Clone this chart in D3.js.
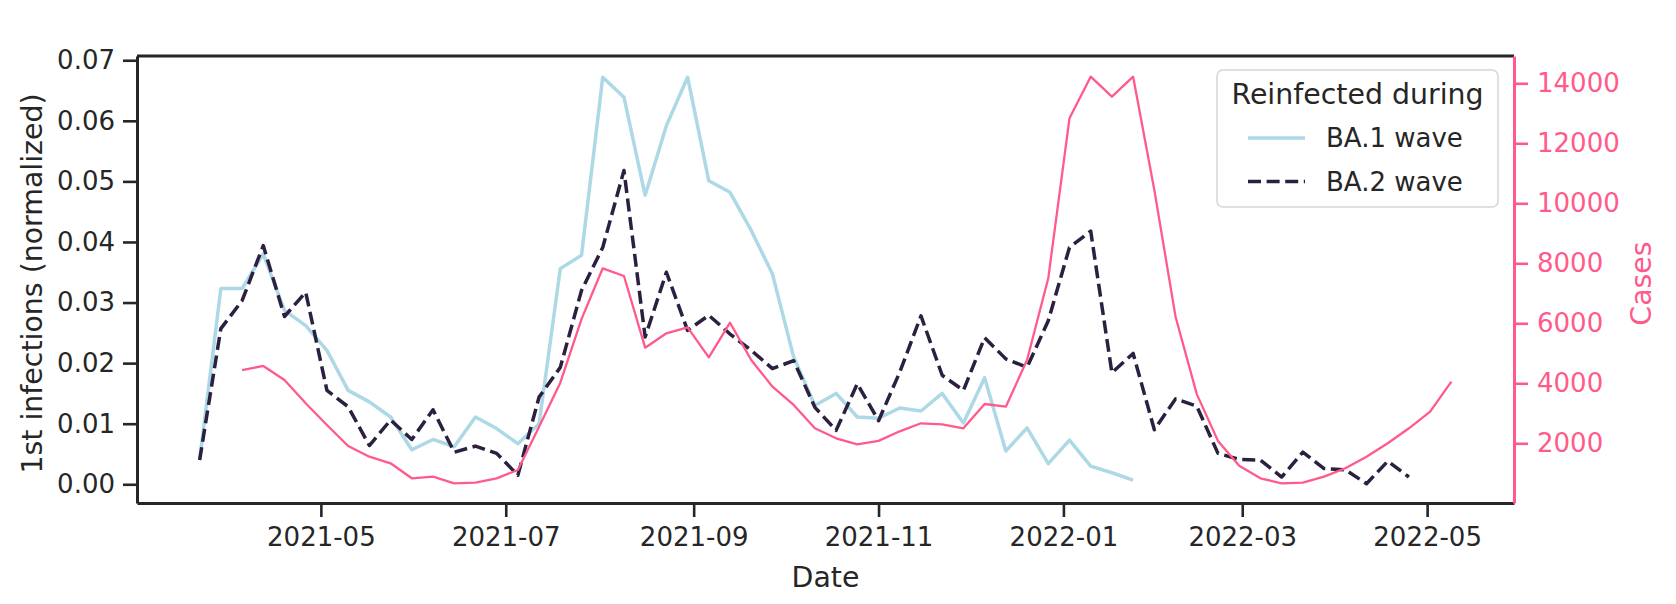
<!DOCTYPE html>
<html>
<head>
<meta charset="utf-8">
<script src="https://cdn.jsdelivr.net/npm/d3@7"></script>
<style>
  html, body { margin: 0; padding: 0; background: #ffffff; }
  svg { display: block; font-family: "DejaVu Sans", sans-serif; }
</style>
</head>
<body>
<svg id="chart" width="1676" height="604"></svg>
<script>
// ---------- data (weekly) ----------
const dates = [
  "2021-03-22","2021-03-29","2021-04-05","2021-04-12","2021-04-19","2021-04-26",
  "2021-05-03","2021-05-10","2021-05-17","2021-05-24","2021-05-31","2021-06-07",
  "2021-06-14","2021-06-21","2021-06-28","2021-07-05","2021-07-12","2021-07-19",
  "2021-07-26","2021-08-02","2021-08-09","2021-08-16","2021-08-23","2021-08-30",
  "2021-09-06","2021-09-13","2021-09-20","2021-09-27","2021-10-04","2021-10-11",
  "2021-10-18","2021-10-25","2021-11-01","2021-11-08","2021-11-15","2021-11-22",
  "2021-11-29","2021-12-06","2021-12-13","2021-12-20","2021-12-27","2022-01-03",
  "2022-01-10","2022-01-17","2022-01-24","2022-01-31","2022-02-07","2022-02-14",
  "2022-02-21","2022-02-28","2022-03-07","2022-03-14","2022-03-21","2022-03-28",
  "2022-04-04","2022-04-11","2022-04-18","2022-04-25","2022-05-02","2022-05-09"
];

// BA.1 wave reinfections: 1st infections (normalized), from 2021-03-22 to 2022-01-24
const ba1Values = [
  0.0040, 0.0323, 0.0323, 0.0380, 0.0287, 0.0262, 0.0221, 0.0155, 0.0136, 0.0111,
  0.0057, 0.0074, 0.0062, 0.0111, 0.0092, 0.0067, 0.0100, 0.0356, 0.0378, 0.0672,
  0.0639, 0.0477, 0.0592, 0.0672, 0.0501, 0.0482, 0.0419, 0.0347, 0.0210, 0.0130,
  0.0150, 0.0111, 0.0109, 0.0126, 0.0121, 0.0150, 0.0101, 0.0176, 0.0055, 0.0093,
  0.0034, 0.0073, 0.0030, 0.0019, 0.0007
];

// BA.2 wave reinfections: 1st infections (normalized), from 2021-03-22 to 2022-04-25
const ba2Values = [
  0.0040, 0.0257, 0.0303, 0.0394, 0.0277, 0.0317, 0.0155, 0.0128, 0.0064, 0.0106,
  0.0074, 0.0123, 0.0053, 0.0063, 0.0051, 0.0015, 0.0144, 0.0193, 0.0320, 0.0391,
  0.0518, 0.0243, 0.0350, 0.0254, 0.0279, 0.0248, 0.0221, 0.0191, 0.0204, 0.0127,
  0.0089, 0.0166, 0.0105, 0.0185, 0.0278, 0.0180, 0.0155, 0.0242, 0.0207, 0.0193,
  0.0270, 0.0391, 0.0418, 0.0184, 0.0216, 0.0090, 0.0141, 0.0129, 0.0051, 0.0041,
  0.0040, 0.0012, 0.0053, 0.0026, 0.0024, 0.0001, 0.0038, 0.0012
];

// Cases (right axis), from 2021-04-05 to 2022-05-09
const casesStart = 2; // index into dates
const casesValues = [
  4443, 4577, 4110, 3333, 2610, 1910, 1553, 1333, 833, 887,
  667, 687, 833, 1110, 2553, 4020, 6140, 7833, 7577, 5187,
  5667, 5867, 4867, 6020, 4777, 3887, 3277, 2500, 2167, 1967,
  2080, 2400, 2667, 2633, 2500, 3310, 3220, 4777, 7500, 12833,
  14220, 13553, 14220, 10443, 6220, 3640, 2080, 1250, 833, 667,
  690, 887, 1167, 1553, 2000, 2500, 3053, 4053
];

const xTickLabels = ["2021-05","2021-07","2021-09","2021-11","2022-01","2022-03","2022-05"];
const yLeftTicks = [0.00, 0.01, 0.02, 0.03, 0.04, 0.05, 0.06, 0.07];
const yRightTicks = [2000, 4000, 6000, 8000, 10000, 12000, 14000];
const legendTitle = "Reinfected during";
const seriesNames = ["BA.1 wave", "BA.2 wave"];

// ---------- styling ----------
const INK = "#262626";
const BLUE = "#add8e6";
const DARK = "#2b2040";
const PINK = "#ff5a8a";

const svg = d3.select("#chart");
const L = 137, R = 1514, T = 56, B = 503;

const parse = d3.utcParse("%Y-%m-%d");
const parseMonth = d3.utcParse("%Y-%m");
const dateObjs = dates.map(parse);

const x = d3.scaleUtc()
  .domain([new Date(Date.UTC(2021, 2, 1, 8)), new Date(Date.UTC(2022, 4, 29, 16))])
  .range([L, R]);

const yL = d3.scaleLinear().domain([-0.00309, 0.0707]).range([B, T]);
const yR = d3.scaleLinear().domain([10, 14910]).range([B, T]);

// ---------- lines ----------
const ba1 = ba1Values.map((v, i) => ({d: dateObjs[i], v}));
const ba2 = ba2Values.map((v, i) => ({d: dateObjs[i], v}));
const cases = casesValues.map((v, i) => ({d: dateObjs[i + casesStart], v}));

const lineL = d3.line().x(p => x(p.d)).y(p => yL(p.v));
const lineR = d3.line().x(p => x(p.d)).y(p => yR(p.v));

svg.append("path").datum(ba1).attr("d", lineL)
  .attr("fill", "none").attr("stroke", BLUE).attr("stroke-width", 3.5)
  .attr("stroke-linejoin", "round");
svg.append("path").datum(ba2).attr("d", lineL)
  .attr("fill", "none").attr("stroke", DARK).attr("stroke-width", 3.5)
  .attr("stroke-dasharray", "13,5.6").attr("stroke-linejoin", "round");
svg.append("path").datum(cases).attr("d", lineR)
  .attr("fill", "none").attr("stroke", PINK).attr("stroke-width", 2.3)
  .attr("stroke-linejoin", "round");

// ---------- axes ----------
const fontTick = 26, fontLabel = 28.4;

function styleAxis(g, color) {
  g.selectAll("path.domain").attr("stroke", color).attr("stroke-width", 3);
  g.selectAll(".tick line").attr("stroke", color).attr("stroke-width", 2.6);
  g.selectAll(".tick text").attr("fill", color)
    .attr("font-size", fontTick).attr("font-family", "DejaVu Sans");
}

// top spine
svg.append("line").attr("x1", L).attr("x2", R).attr("y1", T).attr("y2", T)
  .attr("stroke", INK).attr("stroke-width", 3);

const gx = svg.append("g").attr("transform", `translate(0,${B})`)
  .call(d3.axisBottom(x)
    .tickValues(xTickLabels.map(parseMonth))
    .tickFormat(d3.utcFormat("%Y-%m"))
    .tickSize(14).tickSizeOuter(0).tickPadding(11));
styleAxis(gx, INK);

const gl = svg.append("g").attr("transform", `translate(${L},0)`)
  .call(d3.axisLeft(yL).tickValues(yLeftTicks).tickFormat(d3.format(".2f"))
    .tickSize(14).tickSizeOuter(0).tickPadding(8));
styleAxis(gl, INK);

const gr = svg.append("g").attr("transform", `translate(${R},0)`)
  .call(d3.axisRight(yR).tickValues(yRightTicks).tickFormat(d3.format("d"))
    .tickSize(14).tickSizeOuter(0).tickPadding(9));
styleAxis(gr, PINK);

// axis labels
svg.append("text").attr("x", (L + R) / 2).attr("y", 587)
  .attr("text-anchor", "middle").attr("font-size", fontLabel).attr("fill", INK)
  .text("Date");
svg.append("text").attr("transform", `translate(42,${(T + B) / 2 + 4}) rotate(-90)`)
  .attr("text-anchor", "middle").attr("font-size", fontLabel).attr("fill", INK)
  .text("1st infections (normalized)");
svg.append("text").attr("transform", `translate(1651,${(T + B) / 2 + 4}) rotate(-90)`)
  .attr("text-anchor", "middle").attr("font-size", fontLabel).attr("fill", PINK)
  .text("Cases");

// ---------- legend ----------
const lg = svg.append("g");
const lx0 = 1217, ly0 = 70, lw = 281, lh = 137;
lg.append("rect").attr("x", lx0).attr("y", ly0).attr("width", lw).attr("height", lh)
  .attr("rx", 6).attr("ry", 6)
  .attr("fill", "#ffffff").attr("fill-opacity", 0.8)
  .attr("stroke", "#d6d6d6").attr("stroke-width", 1.5);
lg.append("text").attr("x", lx0 + lw / 2).attr("y", 104)
  .attr("text-anchor", "middle").attr("font-size", fontLabel).attr("fill", INK)
  .text(legendTitle);
const entryY = [138, 181.5];
const entryStyle = [
  {stroke: BLUE, dash: null},
  {stroke: DARK, dash: "13,5.6"}
];
seriesNames.forEach((name, i) => {
  const ln = lg.append("line").attr("x1", 1248).attr("x2", 1305)
    .attr("y1", entryY[i]).attr("y2", entryY[i])
    .attr("stroke", entryStyle[i].stroke).attr("stroke-width", 3.5);
  if (entryStyle[i].dash) ln.attr("stroke-dasharray", entryStyle[i].dash);
  lg.append("text").attr("x", 1326).attr("y", entryY[i])
    .attr("dy", "0.36em").attr("font-size", fontTick).attr("fill", INK)
    .text(name);
});
</script>
</body>
</html>
